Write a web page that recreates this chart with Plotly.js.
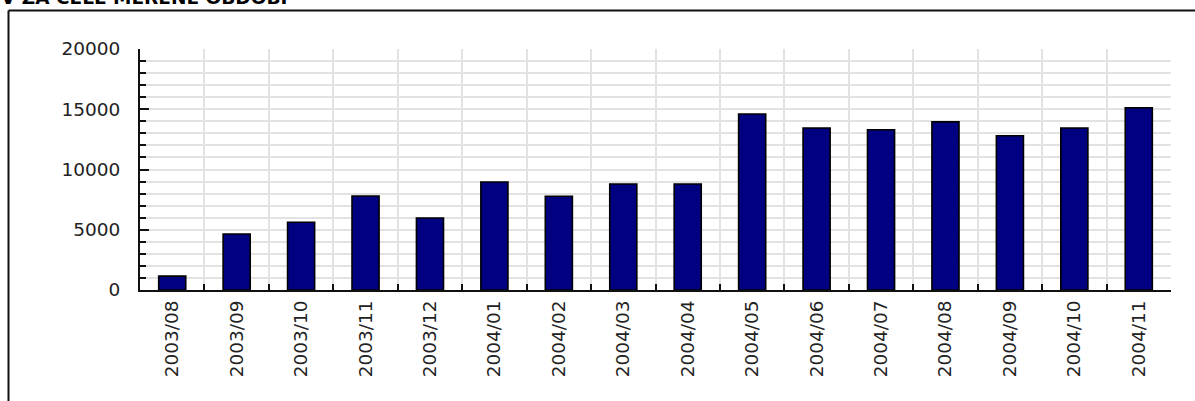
<!DOCTYPE html>
<html>
<head>
<meta charset="utf-8">
<script src="https://cdn.plot.ly/plotly-3.0.1.min.js"></script>
<style>html,body{margin:0;padding:0;background:#fff;}#chart{width:1195px;height:401px;}</style>
</head>
<body>
<div id="chart"></div>
<script>
const months = ["2003/08","2003/09","2003/10","2003/11","2003/12","2004/01","2004/02","2004/03","2004/04","2004/05","2004/06","2004/07","2004/08","2004/09","2004/10","2004/11"];
const visits = [1150, 4650, 5620, 7800, 5980, 8960, 7780, 8800, 8800, 14600, 13450, 13300, 13950, 12800, 13450, 15130];
const yTicks = [0, 5000, 10000, 15000, 20000];
const titleText = "V ZA CELÉ MĚŘENÉ OBDOBÍ";

const W = 1195, H = 401;
const L = 140, R = 24, T = 49, B = 111;
const pw = W - L - R, ph = H - T - B;
const px = x => (x - L) / pw;
const py = y => (H - B - y) / ph;

const trace = {
  type: 'bar',
  x: months,
  y: visits,
  marker: {color: '#000080', line: {color: '#000', width: 1.6}},
  hoverinfo: 'x+y'
};

const tf = {family: 'DejaVu Sans, Verdana, sans-serif', size: 18.5, color: '#222'};

const layout = {
  width: W, height: H,
  margin: {l: L, r: R, t: T, b: B, pad: 0},
  paper_bgcolor: '#fff', plot_bgcolor: '#fff',
  showlegend: false,
  bargap: 0.58,
  font: {family: 'DejaVu Sans, Verdana, sans-serif', size: 18, color: '#222'},
  xaxis: {
    type: 'category',
    tickson: 'boundaries',
    ticks: 'inside', ticklen: 6, tickwidth: 2, tickcolor: '#111',
    showline: true, linecolor: '#111', linewidth: 2,
    showgrid: true, gridcolor: '#e2e2e2', gridwidth: 2,
    tickangle: -90,
    tickfont: tf,
    ticklabelstandoff: 1,
    fixedrange: true
  },
  yaxis: {
    range: [0, 20000],
    tickmode: 'array', tickvals: yTicks, ticktext: yTicks.map(String),
    ticks: 'inside', ticklen: 9, tickwidth: 2, tickcolor: '#111',
    showline: true, linecolor: '#111', linewidth: 2,
    showgrid: true, gridcolor: '#e2e2e2', gridwidth: 2,
    zeroline: false,
    minor: {dtick: 1000, ticks: 'inside', ticklen: 6, tickwidth: 2, tickcolor: '#111', showgrid: true, gridcolor: '#e2e2e2', gridwidth: 2},
    tickfont: tf,
    ticklabelstandoff: 14,
    fixedrange: true
  },
  shapes: [
    {type: 'line', xref: 'paper', yref: 'paper', x0: px(8.5), x1: px(1200), y0: py(10.5), y1: py(10.5), line: {color: '#111', width: 2}},
    {type: 'line', xref: 'paper', yref: 'paper', x0: px(8.5), x1: px(8.5), y0: py(10.5), y1: py(405), line: {color: '#111', width: 2}}
  ],
  annotations: [
    {text: '<b>' + titleText + '</b>', xref: 'paper', yref: 'paper', x: px(-1), y: py(-2.5), xanchor: 'left', yanchor: 'middle', showarrow: false, font: {family: 'DejaVu Sans, Verdana, sans-serif', size: 18.5, color: '#000'}}
  ]
};

Plotly.newPlot('chart', [trace], layout, {displayModeBar: false, staticPlot: true});
</script>
</body>
</html>
